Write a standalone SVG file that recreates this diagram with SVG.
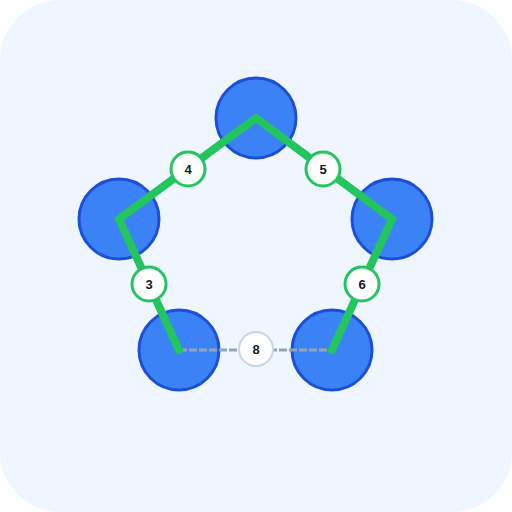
<svg xmlns="http://www.w3.org/2000/svg" width="512" height="512" viewBox="0 0 512 512">
<style>
.node{fill:#3b82f6;stroke:#1d4ed8;stroke-width:3}
.edge{stroke:#22c55e;stroke-width:8;fill:none;stroke-linecap:round;stroke-linejoin:miter}
.nonedge{stroke:#94a3b8;stroke-width:3;stroke-dasharray:8 2;fill:none}
.lbl{fill:#ffffff;stroke:#22c55e;stroke-width:3}
.lblg{fill:#ffffff;stroke:#cbd5e1;stroke-width:2}
.t{font-family:"Liberation Sans",Arial,sans-serif;font-weight:bold;font-size:13px;fill:#111827;text-anchor:middle;dominant-baseline:central}
</style>
<rect x="0" y="0" width="512" height="512" rx="60" fill="#eff6ff"/>
<g id="nodes">
<g id="n1"><circle class="node" cx="256" cy="118" r="40"/></g>
<g id="n2"><circle class="node" cx="119" cy="219" r="40"/></g>
<g id="n3"><circle class="node" cx="392" cy="219" r="40"/></g>
<g id="n4"><circle class="node" cx="179" cy="350" r="40"/></g>
<g id="n5"><circle class="node" cx="332" cy="350" r="40"/></g>
</g>
<g id="connectors">
<line class="nonedge" x1="179" y1="350" x2="332" y2="350"/>
<polyline class="edge" points="179,350 119,219 256,118 392,219 332,350"/>
</g>
<g id="labels">
<g id="l4"><circle class="lbl" cx="188" cy="169" r="17"/><text class="t" x="188" y="169">4</text></g>
<g id="l5"><circle class="lbl" cx="323" cy="169" r="17"/><text class="t" x="323" y="169">5</text></g>
<g id="l3"><circle class="lbl" cx="149" cy="284" r="17"/><text class="t" x="149" y="284">3</text></g>
<g id="l6"><circle class="lbl" cx="362" cy="284" r="17"/><text class="t" x="362" y="284">6</text></g>
<g id="l8"><circle class="lblg" cx="256" cy="349" r="17"/><text class="t" x="256" y="349">8</text></g>
</g>
</svg>
